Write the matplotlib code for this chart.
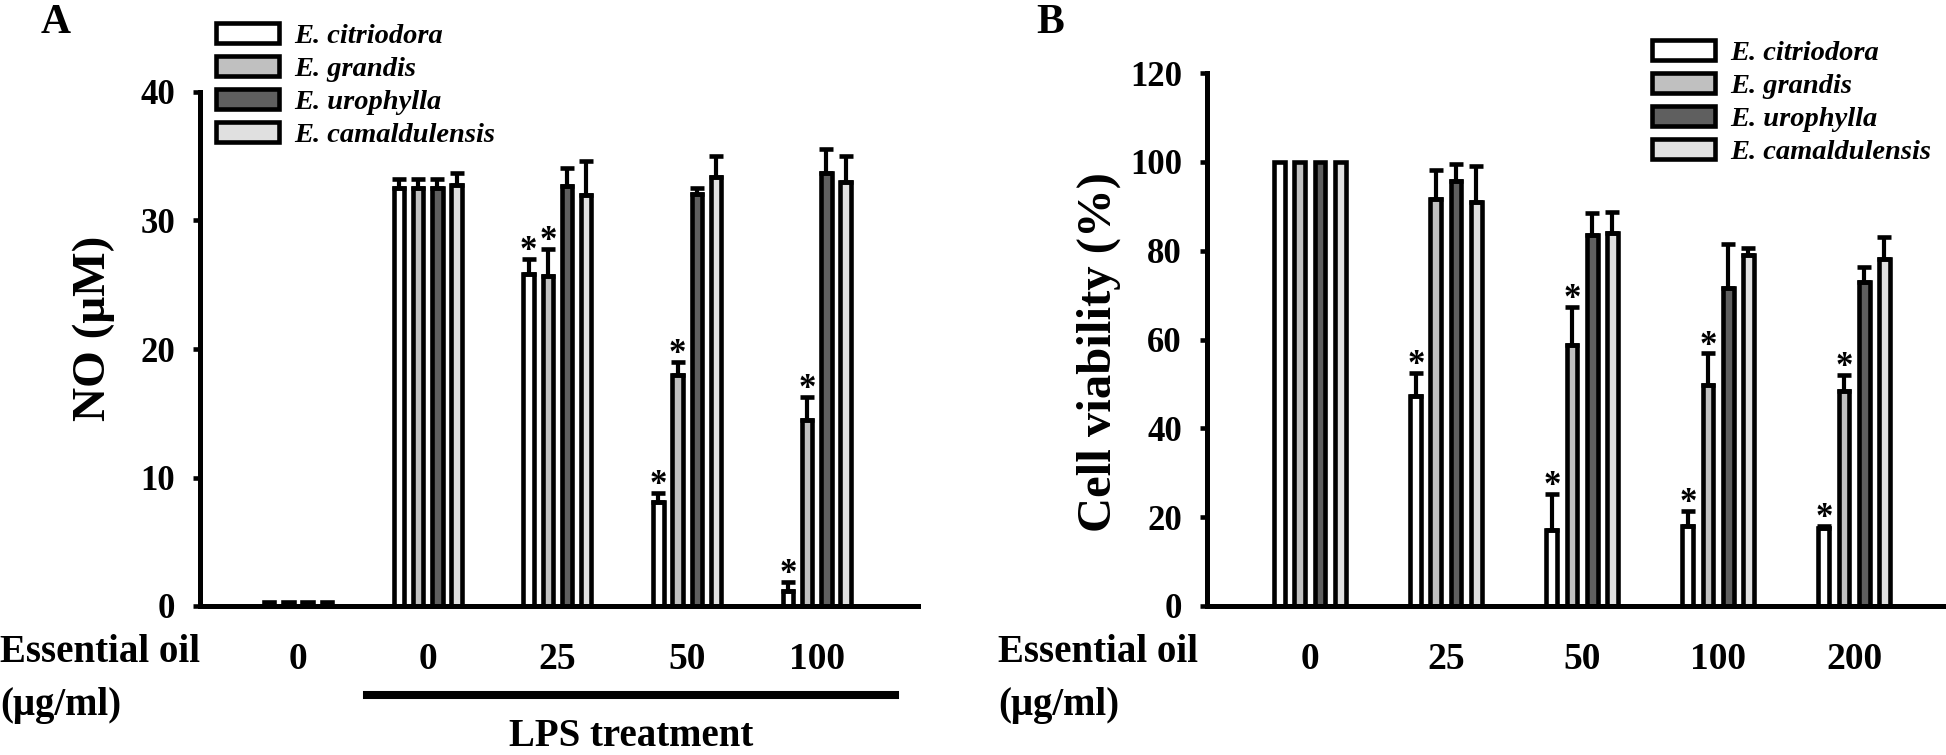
import numpy as np
import matplotlib.pyplot as plt
from matplotlib.lines import Line2D

plt.rcParams['font.family'] = 'Liberation Serif'
plt.rcParams['font.weight'] = 'bold'

species = ['E. citriodora', 'E. grandis', 'E. urophylla', 'E. camaldulensis']
colors = ['white', '#c0c0c0', '#5f5f5f', '#e0e0e0']

# panel A - NO production (uM)
doseA = ['0', '0', '25', '50', '100']
no_mean = [[0.3, 32.5, 25.8, 8.1, 1.2],
           [0.3, 32.5, 25.7, 18.0, 14.5],
           [0.3, 32.5, 32.7, 32.1, 33.7],
           [0.3, 32.8, 32.0, 33.4, 33.0]]
no_err = [[0, 0.7, 1.2, 0.7, 0.7],
          [0, 0.7, 2.1, 1.0, 1.8],
          [0, 0.7, 1.4, 0.4, 1.9],
          [0, 0.9, 2.6, 1.6, 2.0]]
no_star = [[0, 0, 1, 1, 1],
           [0, 0, 1, 1, 1],
           [0, 0, 0, 0, 0],
           [0, 0, 0, 0, 0]]

# panel B - cell viability (%)
doseB = ['0', '25', '50', '100', '200']
via_mean = [[100, 47.3, 17.1, 18.0, 17.6],
            [100, 91.6, 58.7, 49.8, 48.4],
            [100, 95.7, 83.5, 71.6, 72.9],
            [100, 90.9, 84.0, 79.0, 78.1]]
via_err = [[0, 5.2, 8.1, 3.5, 0.4],
           [0, 6.6, 8.7, 7.1, 3.7],
           [0, 3.7, 5.0, 10.0, 3.4],
           [0, 8.2, 4.8, 1.5, 5.0]]
via_star = [[0, 1, 1, 1, 1],
            [0, 0, 1, 1, 1],
            [0, 0, 0, 0, 0],
            [0, 0, 0, 0, 0]]

W, H = 1946, 755
fig = plt.figure(figsize=(W/100, H/100), dpi=100)

def box(x0, y0, x1, y1):
    return [x0/W, 1-y1/H, (x1-x0)/W, (y1-y0)/H]

def fpos(x, y):
    return x/W, 1-y/H

def draw(ax, means, errs, stars, labels, ymax, ystep, xlim):
    x = np.arange(len(labels))
    pitch = 0.148
    for i in range(4):
        xs = x + (i-1.5)*pitch
        m = np.array(means[i], dtype=float)
        e = np.array(errs[i], dtype=float)
        ax.bar(xs, m, width=0.08, color=colors[i], edgecolor='black',
               linewidth=3.3, label=species[i], zorder=2)
        k = e > 0
        ax.errorbar(xs[k], m[k], yerr=[np.zeros(k.sum()), e[k]], fmt='none',
                    ecolor='black', elinewidth=3, capsize=5, capthick=3.3, zorder=3)
        for j in range(len(labels)):
            if stars[i][j]:
                ax.annotate('*', (xs[j], m[j]+e[j]), xytext=(0, -1),
                            textcoords='offset points', ha='center', va='baseline',
                            fontsize=25, fontweight='bold')
    ax.set_xlim(*xlim)
    ax.set_ylim(0, ymax)
    ax.set_yticks(np.arange(0, ymax+1, ystep))
    ax.set_xticks(x, labels)
    for s in ['top', 'right']:
        ax.spines[s].set_visible(False)
    for s in ['left', 'bottom']:
        ax.spines[s].set_linewidth(3.6)
    ax.tick_params(axis='x', length=0, pad=26, labelsize=27)
    ax.tick_params(axis='y', length=5, width=3.3, pad=13, labelsize=25, direction='out')

axA = fig.add_axes(box(200, 92, 918, 606))
draw(axA, no_mean, no_err, no_star, doseA, 40, 10, (-0.756, 4.78))
axB = fig.add_axes(box(1207, 73, 1946, 606))
draw(axB, via_mean, via_err, via_star, doseB, 120, 20, (-0.757, 4.676))

leg_font = dict(family='Liberation Serif', style='italic', weight='bold', size=20.5)
leg_kw = dict(loc='upper left', bbox_transform=fig.transFigure, frameon=False,
              prop=leg_font, handlelength=2.2, handleheight=0.7, handletextpad=0.55,
              labelspacing=0.25, borderpad=0, borderaxespad=0)
axA.legend(bbox_to_anchor=fpos(216, 23), **leg_kw)
axB.legend(bbox_to_anchor=fpos(1652, 40), **leg_kw)

fig.text(*fpos(94, 328), 'NO (μM)', rotation=90, ha='center', va='center', fontsize=34)
fig.text(*fpos(1099, 352), 'Cell viability (%)', rotation=90, ha='center', va='center', fontsize=35)

for x0 in [0, 998]:
    fig.text(*fpos(x0, 652), 'Essential oil', ha='left', va='center', fontsize=28)
    fig.text(*fpos(x0, 705), '(μg/ml)', ha='left', va='center', fontsize=28)

fig.add_artist(Line2D([367/W, 895/W], [1-695/H, 1-695/H], lw=5.8, color='black'))
fig.text(*fpos(631, 737), 'LPS treatment', ha='center', va='center', fontsize=28)

fig.text(*fpos(56, 23), 'A', ha='center', va='center', fontsize=30)
fig.text(*fpos(1050, 23), 'B', ha='center', va='center', fontsize=30)

fig.savefig('out.png', dpi=100)
